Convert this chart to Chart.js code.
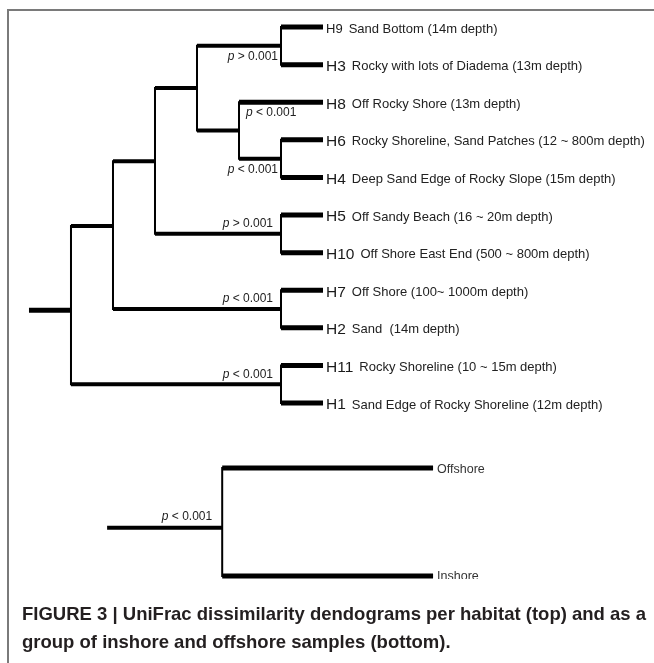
<!DOCTYPE html>
<html>
<head>
<meta charset="utf-8">
<script src="https://cdn.jsdelivr.net/npm/chart.js@4.4.1/dist/chart.umd.min.js"></script>
<style>
  html, body { margin: 0; padding: 0; background: #fff; }
  #wrap { position: relative; width: 654px; height: 663px; }
</style>
</head>
<body>
<div id="wrap"><canvas id="dendro"></canvas></div>
<script>
// Blätter (von oben nach unten) und ihre Beschreibung
const leafNames = ['H9', 'H3', 'H8', 'H6', 'H4', 'H5', 'H10', 'H7', 'H2', 'H11', 'H1'];
const leafText = [
  'Sand Bottom (14m depth)',
  'Rocky with lots of Diadema (13m depth)',
  'Off Rocky Shore (13m depth)',
  'Rocky Shoreline, Sand Patches (12 ~ 800m depth)',
  'Deep Sand Edge of Rocky Slope (15m depth)',
  'Off Sandy Beach (16 ~ 20m depth)',
  'Off Shore East End (500 ~ 800m depth)',
  'Off Shore (100~ 1000m depth)',
  'Sand  (14m depth)',
  'Rocky Shoreline (10 ~ 15m depth)',
  'Sand Edge of Rocky Shoreline (12m depth)'
];
const leafPos = [0, 1, 2, 3, 4, 5, 6, 7, 8, 9, 10];
const leafDepth = 7;

// innere Knoten: linkes Kind, rechtes Kind, Tiefe, Lage
const nodeNames = ['n1', 'n2', 'n3', 'n4', 'n5', 'n6', 'n7', 'n8', 'n9', 'root'];
const nodeLeft  = ['H9', 'H6', 'H8', 'n1', 'H5', 'n4', 'H7', 'n6', 'H11', 'n8'];
const nodeRight = ['H3', 'H4', 'n2', 'n3', 'H10', 'n5', 'H2', 'n7', 'H1', 'n9'];
const nodeDepth = [6, 6, 5, 4, 6, 3, 6, 2, 6, 1];
const nodeY     = [0.5, 3.5, 2.75, 1.62, 5.5, 3.57, 7.5, 5.29, 9.5, 7.53];
const rootStubDepth = 0;

// p-Werte an den Knoten
const pNode = ['n1', 'n2', 'n3', 'n5', 'n7', 'n9'];
const pSign = ['>', '<', '<', '>', '<', '<'];

// unteres Dendrogramm: Offshore / Inshore
const groupNames = ['Offshore', 'Inshore'];
const groupPos = [11.73, 14.6];
const groupDepth = 9.62;
const groupNodeDepth = 4.6;
const groupNodeY = 13.32;
const groupStubDepth = 1.86;
const groupSign = '<';

const captionLines = [
  'FIGURE 3 | UniFrac dissimilarity dendograms per habitat (top) and as a',
  'group of inshore and offshore samples (bottom).'
];

// Stil
const TIP_W = 5, H_W = 4, V_W = 2;
const pPlace = ['below', 'below', 'belowStart', 'above', 'above', 'above'];
const codeSize = { H9: 13 };

function posOf(name) {
  const li = leafNames.indexOf(name);
  if (li >= 0) return { d: leafDepth, y: leafPos[li], leaf: true };
  const ni = nodeNames.indexOf(name);
  return { d: nodeDepth[ni], y: nodeY[ni], leaf: false };
}

function seg(x1, y1, x2, y2, w, cap) {
  return {
    data: [{ x: x1, y: y1 }, { x: x2, y: y2 }],
    borderColor: '#000',
    borderWidth: w,
    borderCapStyle: cap || 'butt',
    pointRadius: 0,
    showLine: true,
    fill: false
  };
}

const datasets = [];
nodeNames.forEach((n, j) => {
  const d = nodeDepth[j];
  const L = posOf(nodeLeft[j]);
  const R = posOf(nodeRight[j]);
  datasets.push(seg(d, L.y, d, R.y, V_W, 'square'));
  datasets.push(seg(d, L.y, L.d, L.y, L.leaf ? TIP_W : H_W));
  datasets.push(seg(d, R.y, R.d, R.y, R.leaf ? TIP_W : H_W));
});
const rootIdx = nodeNames.indexOf('root');
datasets.push(seg(rootStubDepth, nodeY[rootIdx], nodeDepth[rootIdx], nodeY[rootIdx], TIP_W));

// unten
datasets.push(seg(groupNodeDepth, groupPos[0], groupNodeDepth, groupPos[1], V_W, 'square'));
groupPos.forEach(y => datasets.push(seg(groupNodeDepth, y, groupDepth, y, TIP_W)));
datasets.push(seg(groupStubDepth, groupNodeY, groupNodeDepth, groupNodeY, H_W));

function drawP(ctx, sign, x, y, align) {
  const italic = 'italic 12px "Liberation Sans", Arial, sans-serif';
  const normal = '12px "Liberation Sans", Arial, sans-serif';
  const rest = ' ' + sign + ' 0.001';
  ctx.font = italic;
  const wp = ctx.measureText('p').width;
  ctx.font = normal;
  const wr = ctx.measureText(rest).width;
  const x0 = align === 'right' ? x - wp - wr : x;
  ctx.textAlign = 'left';
  ctx.textBaseline = 'middle';
  ctx.fillStyle = '#222';
  ctx.font = italic;
  ctx.fillText('p', x0, y);
  ctx.font = normal;
  ctx.fillText(rest, x0 + wp, y);
}

const treeText = {
  id: 'treeText',
  beforeDraw(chart) {
    const ctx = chart.ctx;
    ctx.save();
    ctx.strokeStyle = '#7a7a7a';
    ctx.lineWidth = 2;
    ctx.beginPath();
    ctx.moveTo(8, chart.height);
    ctx.lineTo(8, 10);
    ctx.lineTo(chart.width, 10);
    ctx.stroke();
    ctx.restore();
  },
  afterDatasetsDraw(chart) {
    const ctx = chart.ctx;
    const sx = chart.scales.x, sy = chart.scales.y;
    const px = v => sx.getPixelForValue(v);
    const py = v => sy.getPixelForValue(v);
    ctx.save();

    // Blattbeschriftungen
    leafNames.forEach((name, i) => {
      const x = px(leafDepth) + 3;
      const y = py(leafPos[i]) + 2;
      const size = codeSize[name] || 15.5;
      ctx.font = size + 'px "Liberation Sans", Arial, sans-serif';
      ctx.fillStyle = '#1a1a1a';
      ctx.textAlign = 'left';
      ctx.textBaseline = 'middle';
      ctx.fillText(name, x, y);
      const w = ctx.measureText(name).width;
      ctx.font = '13px "Liberation Sans", Arial, sans-serif';
      ctx.fillStyle = '#222';
      ctx.fillText(leafText[i], x + w + 6, y);
    });

    // p-Werte
    pNode.forEach((n, k) => {
      const j = nodeNames.indexOf(n);
      const d = nodeDepth[j];
      const L = posOf(nodeLeft[j]);
      const place = pPlace[k];
      if (place === 'below') {
        drawP(ctx, pSign[k], px(d) - 3, py(nodeY[j]) + 11, 'right');
      } else if (place === 'belowStart') {
        drawP(ctx, pSign[k], px(d) + 7, py(L.y) + 10, 'left');
      } else {
        drawP(ctx, pSign[k], px(d) - 8, py(nodeY[j]) - 10, 'right');
      }
    });

    // unteres Dendrogramm (Inshore unten abgeschnitten wie im Original)
    drawP(ctx, groupSign, px(groupNodeDepth) - 10, py(groupNodeY) - 11, 'right');
    ctx.save();
    ctx.beginPath();
    ctx.rect(0, 0, chart.width, py(groupPos[1]) + 3);
    ctx.clip();
    ctx.font = '12.5px "Liberation Sans", Arial, sans-serif';
    ctx.fillStyle = '#333';
    ctx.textAlign = 'left';
    ctx.textBaseline = 'middle';
    groupNames.forEach((g, i) => ctx.fillText(g, px(groupDepth) + 4, py(groupPos[i]) + 1));
    ctx.restore();

    // Bildunterschrift
    const capX = 22, capW = 624;
    ctx.font = 'bold 16px "Liberation Sans", Arial, sans-serif';
    const fitSize = 16 * capW / ctx.measureText(captionLines[0]).width;
    ctx.font = 'bold ' + fitSize.toFixed(2) + 'px "Liberation Sans", Arial, sans-serif';
    ctx.fillStyle = '#231f20';
    ctx.textAlign = 'left';
    ctx.textBaseline = 'middle';
    ctx.fillText(captionLines[0], capX, 615);
    ctx.fillText(captionLines[1], capX, 643);

    ctx.restore();
  }
};

new Chart(document.getElementById('dendro'), {
  type: 'scatter',
  data: { datasets: datasets },
  options: {
    responsive: true,
    maintainAspectRatio: false,
    animation: false,
    events: [],
    layout: { padding: 0 },
    plugins: { legend: { display: false }, tooltip: { enabled: false }, title: { display: false } },
    scales: {
      x: { type: 'linear', display: false, min: -0.69, max: 14.88 },
      y: { type: 'linear', display: false, min: -0.72, max: 16.915, reverse: true }
    }
  },
  plugins: [treeText]
});
</script>
</body>
</html>
